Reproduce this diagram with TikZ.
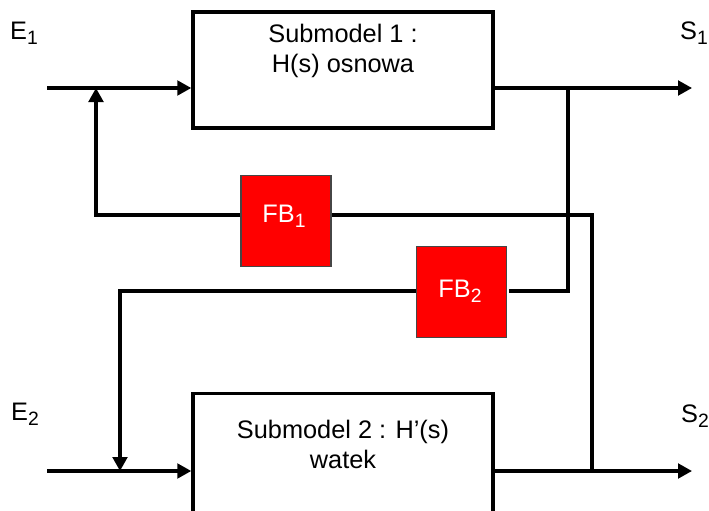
\documentclass[tikz,border=0pt]{standalone}
\usepackage{fontspec}
\setmainfont{Liberation Sans}
\usetikzlibrary{arrows.meta}
% lowered index for the signal names
\newcommand\lowidx[1]{\raisebox{-0.2em}{\fontsize{14.5}{14.5}\selectfont #1}}
\begin{document}
\begin{tikzpicture}[x=0.75pt,y=-0.75pt,
  wire/.style={line width=2.3pt},
  flow/.style={wire,-{Triangle[length=10.5pt,width=11pt]}},
  model/.style={draw,rectangle,line width=2.6pt,minimum width=225pt,inner sep=0pt},
  fbbox/.style={draw=gray!55!black,fill=red,rectangle,line width=1pt,
    minimum width=67.5pt,minimum height=68.5pt,inner sep=0pt},
  txt/.style={font=\fontsize{19}{22.5}\selectfont,align=center,inner sep=0pt},
  fbtxt/.style={txt,text=white}
]
\useasboundingbox (0,0) rectangle (709,510);
\clip (0,0) rectangle (709,510);

% the two submodels
\node[model,minimum height=87pt] (sub1) at (343,70) {};
\node[txt] (sub1txt) at (343,51) {Submodel 1 :\\H(s) osnowa};
\node[model,minimum height=103pt] (sub2) at (343,462) {};
\node[txt] (sub2txt) at (343,444.5) {Submodel 2 : H'(s)\\watek};

% feedback blocks
\node[fbbox] (fb1) at (286,221) {};
\node[fbtxt] (fb1txt) at (284,216) {FB\lowidx{1}};
\node[fbbox] (fb2) at (461.5,292) {};
\node[fbtxt] (fb2txt) at (460,291) {FB\lowidx{2}};

% signal names
\node[txt] (e1) at (24,33) {E\lowidx{1}};
\node[txt] (s1) at (694,33) {S\lowidx{1}};
\node[txt] (e2) at (25,414) {E\lowidx{2}};
\node[txt] (s2) at (695,416) {S\lowidx{2}};

% bend and junction points of the wiring
\coordinate (e1in) at (47,88);
\coordinate (s1out) at (692,88);
\coordinate (tap1) at (568,88);
\coordinate (k1) at (568,291);
\coordinate (k2) at (96,215);
\coordinate (j1) at (96,88);
\coordinate (tap2) at (592,471);
\coordinate (k3) at (592,215);
\coordinate (k4) at (120,291);
\coordinate (j2) at (120,471);
\coordinate (e2in) at (47,471);
\coordinate (s2out) at (692,471);

% main paths
\draw[flow] (e1in) -- (e1in -| sub1.west);
\draw[flow] (s1out -| sub1.east) -- (s1out);
\draw[flow] (e2in) -- (e2in -| sub2.west);
\draw[flow] (s2out -| sub2.east) -- (s2out);

% feedback through FB1: from S2 back to the input of submodel 1
\draw[wire] (tap2) -- (k3) -- (k3 -| fb1.east);
\draw[flow] (fb1.west |- k2) -- (k2) -- (j1);

% feedback through FB2: from S1 back to the input of submodel 2
\draw[wire] (tap1) -- (k1) -- ([xshift=1.5pt]k1 -| fb2.east);
\draw[flow] (fb2.west |- k4) -- (k4) -- (j2);
\end{tikzpicture}
\end{document}
